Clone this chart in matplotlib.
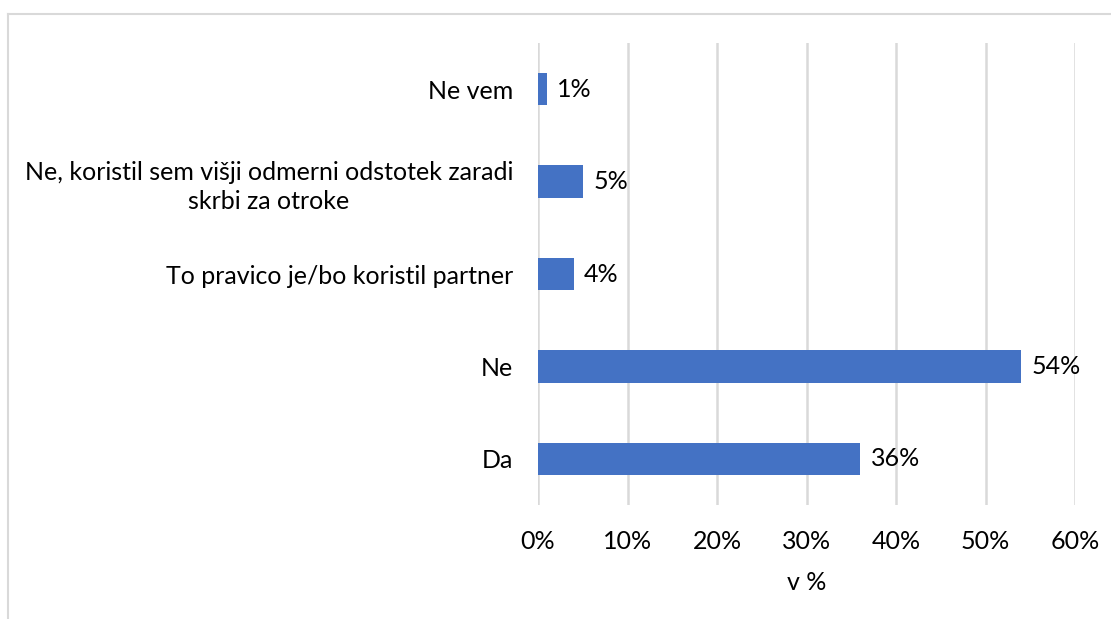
import matplotlib
matplotlib.use('Agg')
import matplotlib.pyplot as plt
from matplotlib.lines import Line2D

# 数据
categories = ["Da", "Ne", "To pravico je/bo koristil partner",
              "Ne, koristil sem višji odmerni odstotek zaradi\nskrbi za otroke", "Ne vem"]
values = [36, 54, 4, 5, 1]
xticks = [0, 10, 20, 30, 40, 50, 60]

BAR_COLOR = "#4472C4"
GRID_COLOR = "#D9D9D9"
FS = 18

plt.rcParams['font.family'] = ['Lato', 'DejaVu Sans']

W, H = 1111, 619
fig = plt.figure(figsize=(W / 100, H / 100), dpi=100)
ax = fig.add_axes([538 / W, 1 - 505 / H, (1075 - 538) / W, (505 - 43) / H])

y = range(len(categories))
ax.barh(y, values, height=0.35, color=BAR_COLOR, zorder=3)
for yi, v in zip(y, values):
    ax.annotate(f"{v}%", (v, yi), xytext=(7.5, 0), textcoords='offset points',
                va='center', ha='left', fontsize=FS, color='#000000')

ax.set_xlim(0, 60)
ax.set_ylim(-0.5, 4.5)
ax.set_xticks(xticks)
ax.set_xticklabels([f"{t}%" for t in xticks], fontsize=FS)
ax.set_yticks(list(y))
ax.set_yticklabels(categories, fontsize=FS, multialignment='center', linespacing=1.35)
ax.tick_params(axis='both', length=0)
ax.tick_params(axis='x', pad=18)
ax.tick_params(axis='y', pad=18)
ax.grid(axis='x', color=GRID_COLOR, linewidth=1.8, zorder=0)
for s in ax.spines.values():
    s.set_visible(False)
ax.set_xlabel("v %", fontsize=FS, labelpad=13)

# 外框（只有上边和左边可见）
fig.add_artist(Line2D([8 / W, 1], [1 - 14 / H, 1 - 14 / H], transform=fig.transFigure,
                      color=GRID_COLOR, linewidth=1.5))
fig.add_artist(Line2D([8 / W, 8 / W], [0, 1 - 14 / H], transform=fig.transFigure,
                      color=GRID_COLOR, linewidth=1.5))

fig.savefig("out.png", dpi=100)
